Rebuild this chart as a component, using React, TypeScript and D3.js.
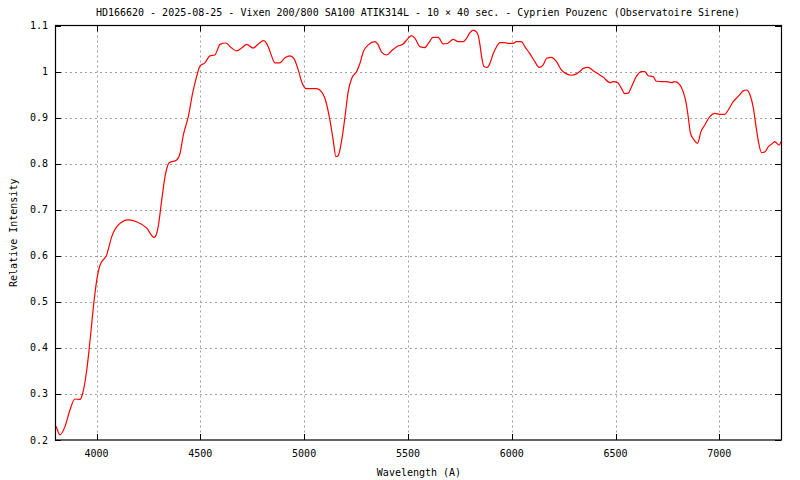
import { useEffect, useRef } from "react";
import * as d3 from "d3";

const titleText =
  "HD166620 - 2025-08-25 - Vixen 200/800 SA100 ATIK314L - 10 \u00d7 40 sec. - Cyprien Pouzenc (Observatoire Sirene)";

const xTicks = [4000, 4500, 5000, 5500, 6000, 6500, 7000];
const yTicks = [0.2, 0.3, 0.4, 0.5, 0.6, 0.7, 0.8, 0.9, 1.0, 1.1];

// wavelength (A)
const wavelengths = [
  3800, 3805, 3824, 3848, 3872, 3896, 3920, 3933, 3953, 3969, 3985, 4001, 4017, 4049, 4073, 4105, 4153,
  4193, 4242, 4277, 4290, 4297, 4314, 4330, 4350, 4386, 4402, 4418, 4442, 4463, 4482, 4498, 4522, 4546,
  4570, 4595, 4623, 4651, 4675, 4699, 4723, 4755, 4779, 4806, 4827, 4844, 4859, 4883, 4908, 4932, 4951,
  4972, 4988, 5009, 5036, 5060, 5084, 5100, 5124, 5140, 5153, 5164, 5181, 5197, 5212, 5229, 5253, 5269,
  5285, 5309, 5341, 5357, 5373, 5397, 5421, 5446, 5477, 5501, 5518, 5534, 5558, 5582, 5598, 5622, 5646,
  5670, 5690, 5718, 5742, 5766, 5782, 5798, 5814, 5830, 5838, 5847, 5855, 5866, 5882, 5895, 5911, 5927,
  5943, 5967, 5983, 6007, 6023, 6047, 6063, 6087, 6112, 6132, 6151, 6168, 6192, 6216, 6240, 6264, 6288,
  6312, 6328, 6344, 6368, 6392, 6416, 6440, 6473, 6490, 6510, 6529, 6545, 6561, 6577, 6601, 6625, 6641,
  6657, 6681, 6697, 6722, 6746, 6770, 6786, 6810, 6826, 6839, 6850, 6861, 6879, 6895, 6911, 6930, 6954,
  6978, 7002, 7026, 7042, 7066, 7091, 7115, 7131, 7148, 7164, 7177, 7187, 7203, 7220, 7236, 7256, 7267,
  7288, 7297,
];

// relative intensity
const intensities = [
  0.232, 0.229, 0.211, 0.229, 0.265, 0.289, 0.288, 0.301, 0.352, 0.417, 0.489, 0.547, 0.58, 0.602, 0.641,
  0.667, 0.678, 0.674, 0.66, 0.64, 0.649, 0.663, 0.721, 0.772, 0.802, 0.808, 0.822, 0.862, 0.902, 0.953,
  0.989, 1.012, 1.019, 1.034, 1.036, 1.059, 1.062, 1.051, 1.045, 1.051, 1.059, 1.051, 1.06, 1.067, 1.054,
  1.033, 1.019, 1.019, 1.03, 1.034, 1.028, 1.003, 0.978, 0.963, 0.963, 0.963, 0.956, 0.942, 0.895, 0.851,
  0.815, 0.817, 0.851, 0.902, 0.956, 0.985, 1.0, 1.018, 1.043, 1.058, 1.065, 1.058, 1.042, 1.036, 1.045,
  1.054, 1.06, 1.072, 1.078, 1.072, 1.054, 1.052, 1.061, 1.074, 1.074, 1.06, 1.061, 1.07, 1.065, 1.065,
  1.072, 1.084, 1.09, 1.086, 1.079, 1.058, 1.032, 1.011, 1.009, 1.018, 1.039, 1.054, 1.063, 1.063, 1.061,
  1.061, 1.065, 1.065, 1.054, 1.039, 1.021, 1.009, 1.014, 1.029, 1.031, 1.021, 1.003, 0.995, 0.992, 0.995,
  1.0, 1.007, 1.009, 1.002, 0.995, 0.988, 0.976, 0.978, 0.976, 0.963, 0.952, 0.953, 0.967, 0.99, 1.0, 1.0,
  0.991, 0.989, 0.979, 0.978, 0.978, 0.976, 0.978, 0.971, 0.956, 0.934, 0.902, 0.866, 0.851, 0.844, 0.869,
  0.884, 0.902, 0.909, 0.907, 0.907, 0.916, 0.934, 0.946, 0.958, 0.96, 0.949, 0.92, 0.88, 0.851, 0.824,
  0.826, 0.837, 0.844, 0.848, 0.84, 0.848,
];

const FONT = "'DejaVu Sans Mono', monospace";

export default function App() {
  const ref = useRef<HTMLDivElement | null>(null);

  useEffect(() => {
    const container = ref.current;
    if (!container) return;
    container.innerHTML = "";

    const width = 800;
    const height = 480;
    const left = 55;
    const right = 781;
    const top = 25.5;
    const bottom = 440;

    const svg = d3
      .select(container)
      .append("svg")
      .attr("width", width)
      .attr("height", height)
      .style("display", "block")
      .style("background", "#fff");

    const x = d3.scaleLinear().domain([3800, 7297]).range([left, right]);
    const y = d3.scaleLinear().domain([0.2, 1.1]).range([bottom, top]);

    // grid
    const grid = svg.append("g").attr("stroke", "#a0a0a0").attr("stroke-dasharray", "2 3");
    grid
      .selectAll("line.gx")
      .data(xTicks)
      .join("line")
      .attr("class", "gx")
      .attr("x1", (d) => Math.round(x(d)) + 0.5)
      .attr("x2", (d) => Math.round(x(d)) + 0.5)
      .attr("y1", top)
      .attr("y2", bottom);
    grid
      .selectAll("line.gy")
      .data(yTicks.slice(1, -1))
      .join("line")
      .attr("class", "gy")
      .attr("x1", left)
      .attr("x2", right)
      .attr("y1", (d) => Math.round(y(d)) + 0.5)
      .attr("y2", (d) => Math.round(y(d)) + 0.5);

    // tick marks (inward, all four sides)
    const ticks = svg.append("g").attr("stroke", "#000");
    xTicks.forEach((t) => {
      const px = Math.round(x(t)) + 0.5;
      ticks.append("line").attr("x1", px).attr("x2", px).attr("y1", bottom).attr("y2", bottom - 6);
      ticks.append("line").attr("x1", px).attr("x2", px).attr("y1", top).attr("y2", top + 6);
    });
    yTicks.forEach((t) => {
      const py = Math.round(y(t)) + 0.5;
      ticks.append("line").attr("x1", left).attr("x2", left + 6).attr("y1", py).attr("y2", py);
      ticks.append("line").attr("x1", right).attr("x2", right - 6).attr("y1", py).attr("y2", py);
    });

    // spectrum
    const points = wavelengths.map((w, i) => [w, intensities[i]] as [number, number]);
    const line = d3
      .line<[number, number]>()
      .x((d) => x(d[0]))
      .y((d) => y(d[1]))
      .curve(d3.curveMonotoneX);
    svg
      .append("path")
      .datum(points)
      .attr("d", line)
      .attr("fill", "none")
      .attr("stroke", "#ff0000")
      .attr("stroke-width", 1.2);

    // frame
    svg
      .append("rect")
      .attr("x", left + 0.5)
      .attr("y", top)
      .attr("width", right - left)
      .attr("height", bottom - top)
      .attr("fill", "none")
      .attr("stroke", "#000")
      .attr("stroke-width", 1.2);

    const text = svg.append("g").attr("font-family", FONT).attr("font-size", 10).attr("fill", "#000");

    text
      .selectAll("text.xt")
      .data(xTicks)
      .join("text")
      .attr("class", "xt")
      .attr("x", (d) => x(d))
      .attr("y", 457)
      .attr("text-anchor", "middle")
      .text((d) => String(d));

    text
      .selectAll("text.yt")
      .data(yTicks)
      .join("text")
      .attr("class", "yt")
      .attr("x", 48)
      .attr("y", (d) => y(d) + 3.5)
      .attr("text-anchor", "end")
      .text((d) => d3.format("~g")(d));

    text
      .append("text")
      .attr("x", 418)
      .attr("y", 16)
      .attr("text-anchor", "middle")
      .text(titleText);

    text
      .append("text")
      .attr("x", 419)
      .attr("y", 476)
      .attr("text-anchor", "middle")
      .text("Wavelength (A)");

    text
      .append("text")
      .attr("transform", `translate(17,${(top + bottom) / 2}) rotate(-90)`)
      .attr("text-anchor", "middle")
      .text("Relative Intensity");
  }, []);

  return <div ref={ref} style={{ position: "fixed", left: 0, top: 0 }} />;
}
